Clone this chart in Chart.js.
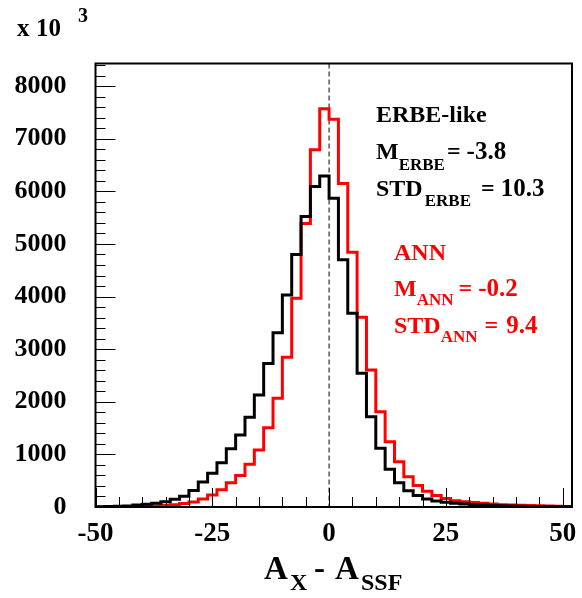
<!DOCTYPE html>
<html>
<head>
<meta charset="utf-8">
<script src="https://cdn.jsdelivr.net/npm/chart.js@4.4.0/dist/chart.umd.min.js"></script>
<style>
  body { margin: 0; background: #fff; }
  #wrap { width: 582px; height: 598px; }
</style>
</head>
<body>
<div id="wrap"><canvas id="histChart" width="582" height="598"></canvas></div>
<script>
// Histogram bins (lower edges), width 2
const binWidth = 2;
const binLow = [-50, -48, -46, -44, -42, -40, -38, -36, -34, -32, -30, -28, -26, -24, -22, -20, -18, -16, -14, -12, -10,
  -8, -6, -4, -2, 0, 2, 4, 6, 8, 10, 12, 14, 16, 18, 20, 22, 24, 26, 28, 30, 32, 34, 36, 38, 40, 42, 44, 46, 48, 50];

// ERBE-like (black)
const erbeCounts = [5, 8, 12, 20, 38, 51, 70, 101, 146, 205, 315, 475, 640, 843, 1105, 1370, 1705, 2130, 2730, 3314, 4030,
  4800, 5520, 6090, 6290, 5870, 4700, 3682, 2541, 1717, 1116, 716, 462, 310, 220, 150, 114, 89, 70, 57, 45,
  36, 28, 22, 18, 14, 11, 9, 7, 5, 4];

// ANN (red)
const annCounts = [2, 3, 5, 7, 10, 14, 20, 28, 45, 68, 95, 150, 230, 330, 460, 600, 812, 1084, 1508, 2066, 2846,
  3967, 5390, 6790, 7570, 7370, 6150, 4840, 3606, 2605, 1812, 1242, 862, 576, 410, 298, 220, 160, 118, 98, 85,
  70, 57, 45, 38, 32, 27, 22, 18, 14, 10];

const xTickLabels = [-50, -25, 0, 25, 50];
const yTickLabels = [0, 1000, 2000, 3000, 4000, 5000, 6000, 7000, 8000];

const xMin = -50, xMax = 52;
const yMin = 0, yMax = 8430;

const FONT = '"Liberation Serif", "Times New Roman", serif';

function toSteps(vals) {
  const last = binLow.length - 1;
  const pts = [{ x: binLow[0], y: 0 }];
  binLow.forEach((x, i) => pts.push({ x: x, y: vals[i] }));
  pts.push({ x: binLow[last] + binWidth, y: vals[last] });
  pts.push({ x: binLow[last] + binWidth, y: 0 });
  return pts;
}

// draw text pieces, some as subscript / superscript
function drawRich(ctx, parts, x, y, color) {
  ctx.save();
  ctx.fillStyle = color;
  ctx.textBaseline = 'alphabetic';
  ctx.textAlign = 'left';
  let cx = x;
  parts.forEach(p => {
    ctx.font = 'bold ' + p.size + 'px ' + FONT;
    if (p.at !== undefined) cx = p.at;
    ctx.fillText(p.text, cx, y + (p.dy || 0));
    cx += ctx.measureText(p.text).width + (p.gap || 0);
  });
  ctx.restore();
}

const rootFrame = {
  id: 'rootFrame',
  beforeDatasetsDraw(chart) {
    const { ctx, chartArea: a, scales: { x } } = chart;
    const px = x.getPixelForValue(0);
    ctx.save();
    ctx.strokeStyle = '#000';
    ctx.lineWidth = 1;
    ctx.setLineDash([5, 3]);
    ctx.beginPath();
    ctx.moveTo(px, a.top);
    ctx.lineTo(px, a.bottom);
    ctx.stroke();
    ctx.restore();
  },
  afterDraw(chart) {
    const { ctx, chartArea: a, scales: { x, y } } = chart;
    ctx.save();
    ctx.strokeStyle = '#000';
    ctx.lineWidth = 1;
    // x ticks, inside the frame
    ctx.beginPath();
    for (let v = xMin; v <= 50; v += 5) {
      const px = Math.round(x.getPixelForValue(v)) + 0.5;
      const len = v % 25 === 0 ? 19 : 10;
      ctx.moveTo(px, a.bottom);
      ctx.lineTo(px, a.bottom - len);
    }
    // y ticks
    for (let v = 0; v <= yMax; v += 200) {
      const py = Math.round(y.getPixelForValue(v)) + 0.5;
      const len = v % 1000 === 0 ? 20 : 10;
      ctx.moveTo(a.left, py);
      ctx.lineTo(a.left + len, py);
    }
    ctx.stroke();
    // frame
    ctx.lineWidth = 2;
    ctx.strokeRect(a.left, a.top, a.right - a.left, a.bottom - a.top);
    ctx.restore();

    // exponent
    drawRich(ctx, [{ text: 'x', size: 25, at: 17 }, { text: '10', size: 25, at: 36 }], 17, 36, '#000');
    drawRich(ctx, [{ text: '3', size: 20 }], 78, 22, '#000');

    // axis title
    drawRich(ctx, [
      { text: 'A', size: 33, at: 264 },
      { text: 'X', size: 24, dy: 11, at: 290 },
      { text: '-', size: 33, at: 314 },
      { text: 'A', size: 33, at: 335 },
      { text: 'SSF', size: 24, dy: 11, at: 361 }
    ], 264, 578.5, '#000');

    // stats boxes
    drawRich(ctx, [{ text: 'ERBE-like', size: 24 }], 376, 122, '#000');
    drawRich(ctx, [
      { text: 'M', size: 24 },
      { text: 'ERBE', size: 17, dy: 11, gap: 2 },
      { text: '=', size: 24, gap: 6 },
      { text: '-3.8', size: 25 }
    ], 376, 159, '#000');
    drawRich(ctx, [
      { text: 'STD', size: 24, gap: 2 },
      { text: 'ERBE', size: 17, dy: 10, gap: 10 },
      { text: '=', size: 24, gap: 6 },
      { text: '10.3', size: 25 }
    ], 376, 196, '#000');

    drawRich(ctx, [{ text: 'ANN', size: 24 }], 394, 260, '#ff0000');
    drawRich(ctx, [
      { text: 'M', size: 24 },
      { text: 'ANN', size: 17, dy: 9, gap: 5 },
      { text: '=', size: 24, gap: 6 },
      { text: '-0.2', size: 25 }
    ], 394, 296, '#ff0000');
    drawRich(ctx, [
      { text: 'STD', size: 24 },
      { text: 'ANN', size: 17, dy: 9, gap: 7 },
      { text: '=', size: 24, gap: 8 },
      { text: '9.4', size: 25 }
    ], 394, 333, '#ff0000');
  }
};

const ctx = document.getElementById('histChart').getContext('2d');
new Chart(ctx, {
  type: 'line',
  data: {
    datasets: [
      { label: 'ERBE-like', data: toSteps(erbeCounts), borderColor: '#000000', borderWidth: 3,
        stepped: 'before', pointRadius: 0, fill: false, tension: 0 },
      { label: 'ANN', data: toSteps(annCounts), borderColor: '#ff0000', borderWidth: 3,
        stepped: 'before', pointRadius: 0, fill: false, tension: 0 }
    ]
  },
  options: {
    responsive: false,
    animation: false,
    layout: { padding: { top: 63.5, right: 10, left: 0, bottom: 0 } },
    plugins: { legend: { display: false }, tooltip: { enabled: false } },
    scales: {
      x: {
        type: 'linear', min: xMin, max: xMax,
        afterBuildTicks: s => { s.ticks = xTickLabels.map(v => ({ value: v })); },
        afterFit: s => { s.height = 91; },
        grid: { display: false }, border: { display: false },
        ticks: { color: '#000', padding: 3, maxRotation: 0, autoSkip: false,
          callback: v => String(v),
          font: { family: FONT, size: 27, weight: 'bold' } }
      },
      y: {
        min: yMin, max: yMax,
        afterBuildTicks: s => { s.ticks = yTickLabels.map(v => ({ value: v })); },
        afterFit: s => { s.width = 95.5; },
        grid: { display: false }, border: { display: false },
        ticks: { color: '#000', padding: 21, autoSkip: false,
          callback: v => String(v),
          font: { family: FONT, size: 26, weight: 'bold' } }
      }
    }
  },
  plugins: [rootFrame]
});
</script>
</body>
</html>
